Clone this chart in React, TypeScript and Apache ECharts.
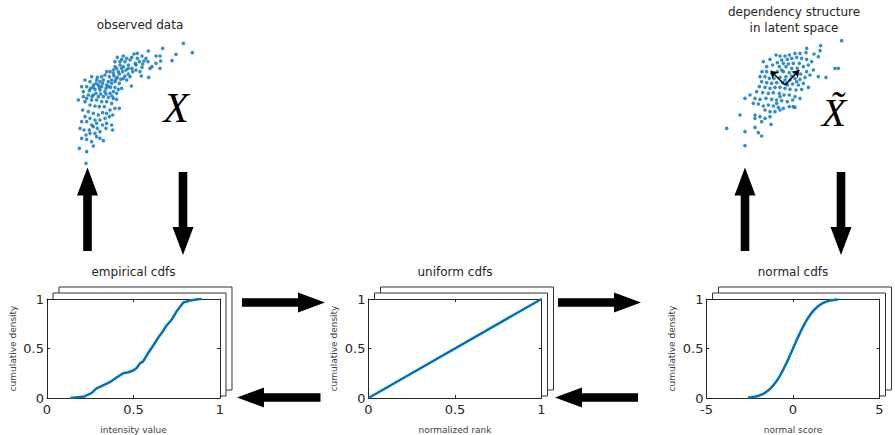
import React, { useEffect, useRef } from "react";
import * as echarts from "echarts";

// empirical cdf (intensity value -> cumulative density)
const empiricalX = [0.135, 0.19, 0.218, 0.232, 0.257, 0.286, 0.315, 0.363, 0.4, 0.44, 0.47, 0.5, 0.517, 0.537, 0.556, 0.585, 0.614, 0.643, 0.672, 0.69, 0.72, 0.75, 0.788, 0.826, 0.884, 0.894];
const empiricalY = [0, 0.01, 0.016, 0.03, 0.05, 0.097, 0.12, 0.16, 0.205, 0.25, 0.26, 0.28, 0.3, 0.35, 0.37, 0.455, 0.53, 0.61, 0.68, 0.73, 0.79, 0.877, 0.964, 0.984, 1.0, 1.0];

// uniform cdf
const uniformX = [0, 1];
const uniformY = [0, 1];

// normal cdf
const normalX = [-2.6, -2.4, -2.2, -2.0, -1.8, -1.6, -1.4, -1.2, -1.0, -0.8, -0.6, -0.4, -0.2, 0, 0.2, 0.4, 0.6, 0.8, 1.0, 1.2, 1.4, 1.6, 1.8, 2.0, 2.2, 2.4, 2.6];
const normalY = [0.0047, 0.0082, 0.0139, 0.0228, 0.0359, 0.0548, 0.0808, 0.1151, 0.1587, 0.2119, 0.2743, 0.3446, 0.4207, 0.5, 0.5793, 0.6554, 0.7257, 0.7881, 0.8413, 0.8849, 0.9192, 0.9452, 0.9641, 0.9772, 0.9861, 0.9918, 0.9953];

// tick values
const unitTicks = { min: 0, max: 1, interval: 0.5 };
const scoreTicks = { min: -5, max: 5, interval: 5 };

// observed data cloud (arbitrary units)
const observedPoints = [
  [370, 380], [397, 352], [308, 365], [348, 347], [336, 328], [265, 357], [288, 342], [300, 342], [302, 327], [288, 320],
  [276, 310], [300, 305], [270, 305], [246, 308], [240, 295], [232, 335], [222, 348], [232, 350], [246, 342], [252, 327],
  [258, 335], [264, 325], [248, 318], [226, 320], [216, 305], [228, 300], [266, 278], [244, 282], [214, 252], [210, 330],
  [200, 335], [195, 325], [185, 332], [180, 315], [190, 310], [205, 315], [198, 300], [188, 295], [175, 295], [165, 310],
  [160, 300], [150, 295], [140, 295], [135, 285], [148, 280], [162, 282], [172, 278], [182, 272], [195, 282], [205, 288],
  [178, 260], [165, 265], [155, 270], [145, 265], [130, 270], [120, 265], [110, 270], [95, 280], [90, 265], [100, 255],
  [115, 255], [125, 250], [140, 255], [152, 248], [165, 248], [175, 242], [185, 245], [160, 235], [150, 230], [135, 235],
  [120, 240], [105, 242], [92, 245], [80, 250], [75, 270], [65, 250], [70, 235], [85, 225], [100, 225], [115, 220],
  [130, 220], [145, 218], [160, 215], [170, 212], [178, 185], [165, 185], [155, 200], [140, 205], [125, 205], [110, 210],
  [95, 210], [80, 215], [70, 220], [55, 210], [75, 205], [90, 195], [105, 192], [118, 190], [133, 190], [150, 180],
  [140, 170], [128, 172], [115, 165], [100, 170], [85, 175], [68, 180], [75, 160], [90, 155], [105, 150], [120, 150],
  [135, 155], [148, 160], [158, 165], [110, 140], [95, 135], [80, 145], [65, 145], [60, 125], [72, 120], [88, 120],
  [100, 130], [112, 125], [128, 135], [140, 140], [155, 135], [158, 120], [138, 125], [120, 115], [105, 110], [90, 110],
  [78, 105], [65, 95], [80, 92], [95, 85], [110, 100], [120, 95], [130, 88], [100, 72], [58, 65], [80, 55], [78, 20],
  [170, 305], [185, 305], [178, 288], [190, 275], [200, 270], [210, 280], [160, 290], [168, 272], [155, 260], [145, 250],
  [138, 245], [128, 260], [118, 248], [108, 260], [100, 248], [88, 238], [96, 220], [108, 230], [122, 228], [138, 228],
  [156, 222], [170, 230], [125, 280], [112, 278], [205, 305], [218, 295], [228, 315], [238, 325], [215, 338], [190, 342],
  [172, 338], [180, 325], [165, 325]
];

// latent-space cloud (arbitrary units)
const latentPoints = [
  [425, 388], [362, 373], [360, 358], [342, 348], [355, 340], [320, 365], [318, 352], [300, 350], [285, 350], [268, 345],
  [255, 342], [240, 342], [228, 345], [210, 332], [190, 325], [245, 330], [262, 332], [275, 335], [290, 338], [305, 335],
  [320, 332], [335, 325], [298, 320], [280, 320], [265, 318], [250, 320], [232, 322], [218, 315], [238, 310], [258, 310],
  [275, 305], [292, 305], [310, 310], [325, 315], [340, 300], [320, 295], [302, 288], [285, 290], [268, 292], [250, 295],
  [232, 295], [215, 290], [200, 295], [186, 295], [195, 280], [208, 275], [222, 275], [240, 278], [258, 280], [270, 270],
  [285, 275], [300, 272], [315, 278], [330, 285], [355, 280], [378, 278], [405, 305], [415, 305], [185, 265], [200, 262],
  [215, 260], [230, 262], [248, 262], [262, 255], [278, 258], [295, 255], [310, 260], [325, 248], [305, 242], [288, 240],
  [270, 242], [255, 245], [240, 248], [225, 248], [210, 245], [195, 248], [178, 250], [170, 235], [188, 232], [205, 230],
  [220, 232], [238, 230], [252, 225], [268, 225], [285, 220], [300, 215], [150, 225], [135, 215], [165, 215], [180, 212],
  [198, 215], [215, 212], [230, 210], [245, 208], [262, 205], [278, 210], [160, 200], [175, 198], [190, 192], [205, 195],
  [220, 192], [235, 188], [250, 185], [268, 190], [285, 188], [195, 180], [210, 175], [225, 175], [240, 180], [165, 165],
  [180, 160], [195, 155], [210, 160], [185, 145], [213, 137], [120, 165], [165, 155], [80, 125], [135, 115], [165, 128],
  [175, 112], [185, 102], [135, 73], [280, 190], [230, 200], [240, 220], [255, 270], [275, 282], [290, 265], [200, 310],
  [180, 280], [260, 260], [245, 300]
];

// principal directions drawn inside the latent cloud
const directionArrows = [
  [[255, 255], [212, 298]],
  [[255, 255], [298, 300]]
];

const BLUE = "#0072BD";
const TEXT = "#262626";
const FONT = "DejaVu Sans";

const panels = [
  { left: 47, title: "empirical cdfs", xName: "intensity value", ticks: unitTicks },
  { left: 368.5, title: "uniform cdfs", xName: "normalized rank", ticks: unitTicks },
  { left: 706.5, title: "normal cdfs", xName: "normal score", ticks: scoreTicks },
];
const PANEL_TOP = 299;
const PANEL_W = 173;
const PANEL_H = 103;

function upArrow(cx: number, tip: number, base: number) {
  const hw = 10.5, sw = 4.3, hl = 28;
  return [[cx, tip], [cx + hw, tip + hl], [cx + sw, tip + hl], [cx + sw, base], [cx - sw, base], [cx - sw, tip + hl], [cx - hw, tip + hl]];
}
function downArrow(cx: number, top: number, tip: number) {
  const hw = 10.5, sw = 4.3, hl = 28;
  return [[cx, tip], [cx + hw, tip - hl], [cx + sw, tip - hl], [cx + sw, top], [cx - sw, top], [cx - sw, tip - hl], [cx - hw, tip - hl]];
}
function rightArrow(cy: number, tail: number, tip: number) {
  const hw = 10, sw = 4.3, hl = 27;
  return [[tip, cy], [tip - hl, cy - hw], [tip - hl, cy - sw], [tail, cy - sw], [tail, cy + sw], [tip - hl, cy + sw], [tip - hl, cy + hw]];
}
function leftArrow(cy: number, tail: number, tip: number) {
  const hw = 10, sw = 4.3, hl = 27;
  return [[tip, cy], [tip + hl, cy - hw], [tip + hl, cy - sw], [tail, cy - sw], [tail, cy + sw], [tip + hl, cy + sw], [tip + hl, cy + hw]];
}

export default function App() {
  const ref = useRef<HTMLDivElement>(null);
  useEffect(() => {
    if (!ref.current) return;
    const chart = echarts.init(ref.current, undefined, { renderer: "svg" });

    const grids: any[] = [];
    const xAxes: any[] = [];
    const yAxes: any[] = [];
    const series: any[] = [];
    const graphics: any[] = [];

    const tickStyle = { show: true, inside: true, length: 3, lineStyle: { color: TEXT, width: 1 } };
    const lineStyle = { show: true, onZero: false, lineStyle: { color: TEXT, width: 1 } };

    panels.forEach((p, i) => {
      grids.push({ left: p.left, top: PANEL_TOP, width: PANEL_W, height: PANEL_H, containLabel: false, show: true, backgroundColor: "#fff", borderWidth: 0 });
      xAxes.push({
        type: "value", gridIndex: i, position: "bottom", min: p.ticks.min, max: p.ticks.max, interval: p.ticks.interval,
        axisLine: lineStyle, axisTick: tickStyle, splitLine: { show: false },
        axisLabel: { color: TEXT, fontSize: 13, fontFamily: FONT, margin: 5 },
        name: p.xName, nameLocation: "middle", nameGap: 27, nameTextStyle: { color: "#404040", fontSize: 9, fontFamily: FONT },
      });
      xAxes.push({
        type: "value", gridIndex: i, position: "top", min: p.ticks.min, max: p.ticks.max, interval: p.ticks.interval,
        axisLine: lineStyle, axisTick: tickStyle, splitLine: { show: false }, axisLabel: { show: false },
      });
      yAxes.push({
        type: "value", gridIndex: i, position: "left", min: 0, max: 1, interval: 0.5,
        axisLine: lineStyle, axisTick: tickStyle, splitLine: { show: false },
        axisLabel: { color: TEXT, fontSize: 13, fontFamily: FONT, margin: 3 },
        name: "cumulative density", nameLocation: "middle", nameGap: 30, nameRotate: 90,
        nameTextStyle: { color: "#404040", fontSize: 9, fontFamily: FONT },
      });
      yAxes.push({
        type: "value", gridIndex: i, position: "right", min: 0, max: 1, interval: 0.5,
        axisLine: lineStyle, axisTick: tickStyle, splitLine: { show: false }, axisLabel: { show: false },
      });

      // stacked back frames
      const L = p.left, T = PANEL_TOP, R = p.left + PANEL_W, B = PANEL_TOP + PANEL_H, d = 6;
      graphics.push({
        type: "polyline", silent: true,
        shape: { points: [[L + 2 * d, T - d], [L + 2 * d, T - 2 * d], [R + 2 * d, T - 2 * d], [R + 2 * d, B - 2 * d], [R + d, B - 2 * d]] },
        style: { stroke: "#333", lineWidth: 1, fill: null },
      });
      graphics.push({
        type: "polyline", silent: true,
        shape: { points: [[L + d, T], [L + d, T - d], [R + d, T - d], [R + d, B - d], [R, B - d]] },
        style: { stroke: "#333", lineWidth: 1, fill: null },
      });
      graphics.push({
        type: "text", x: L + PANEL_W / 2, y: 272,
        style: { text: p.title, fill: TEXT, fontSize: 12, fontFamily: FONT, align: "center", verticalAlign: "middle" },
      });
    });

    const curves = [
      [empiricalX, empiricalY],
      [uniformX, uniformY],
      [normalX, normalY],
    ];
    curves.forEach(([xs, ys], i) => {
      series.push({
        type: "line", xAxisIndex: 2 * i, yAxisIndex: 2 * i, showSymbol: false, symbol: "none", smooth: i === 2,
        data: xs.map((x, k) => [x, ys[k]]),
        lineStyle: { color: BLUE, width: 2.5 },
      });
    });

    // scatter panels
    grids.push({ left: 60, top: 0, width: 180, height: 170 });
    grids.push({ left: 700, top: 0, width: 195, height: 170 });
    xAxes.push({ type: "value", gridIndex: 3, min: 0, max: 540, show: false });
    yAxes.push({ type: "value", gridIndex: 3, min: 0, max: 510, show: false });
    xAxes.push({ type: "value", gridIndex: 4, min: 0, max: 585, show: false });
    yAxes.push({ type: "value", gridIndex: 4, min: 0, max: 510, show: false });

    series.push({
      type: "scatter", xAxisIndex: 6, yAxisIndex: 6, data: observedPoints, symbolSize: 3.6,
      itemStyle: { color: BLUE },
    });
    series.push({
      type: "scatter", xAxisIndex: 7, yAxisIndex: 7, data: latentPoints, symbolSize: 3.6,
      itemStyle: { color: BLUE },
    });
    series.push({
      type: "lines", coordinateSystem: "cartesian2d", xAxisIndex: 7, yAxisIndex: 7,
      data: directionArrows.map((c) => ({ coords: c })),
      symbol: ["none", "arrow"], symbolSize: 7,
      lineStyle: { color: "#000", width: 1.4, opacity: 1 }, z: 5,
    });

    graphics.push(
      { type: "text", x: 140, y: 25, style: { text: "observed data", fill: TEXT, fontSize: 12, fontFamily: FONT, align: "center", verticalAlign: "middle" } },
      { type: "text", x: 794, y: 12, style: { text: "dependency structure", fill: TEXT, fontSize: 12, fontFamily: FONT, align: "center", verticalAlign: "middle" } },
      { type: "text", x: 794, y: 28, style: { text: "in latent space", fill: TEXT, fontSize: 12, fontFamily: FONT, align: "center", verticalAlign: "middle" } },
      { type: "text", x: 176, y: 108, style: { text: "X", fill: "#000", fontSize: 42, fontStyle: "italic", fontFamily: "Liberation Serif", align: "center", verticalAlign: "middle" } },
      { type: "text", x: 834, y: 112, style: { text: "X\u0303", fill: "#000", fontSize: 40, fontStyle: "italic", fontFamily: "Liberation Serif", align: "center", verticalAlign: "middle" } },
    );

    const arrows = [
      upArrow(87.5, 167.5, 251),
      downArrow(183, 172, 255),
      upArrow(745, 167.5, 251),
      downArrow(841, 172, 255),
      rightArrow(302.5, 242, 325),
      leftArrow(397.5, 320.5, 237),
      rightArrow(302.5, 558, 641),
      leftArrow(397.5, 638, 555),
    ];
    arrows.forEach((pts) => graphics.push({ type: "polygon", silent: true, shape: { points: pts }, style: { fill: "#000" } }));

    chart.setOption({
      animation: false,
      backgroundColor: "#fff",
      grid: grids,
      xAxis: xAxes,
      yAxis: yAxes,
      series,
      graphic: graphics,
    });
    return () => chart.dispose();
  }, []);

  return <div ref={ref} style={{ position: "fixed", left: 0, top: 0, width: 895, height: 435 }} />;
}
